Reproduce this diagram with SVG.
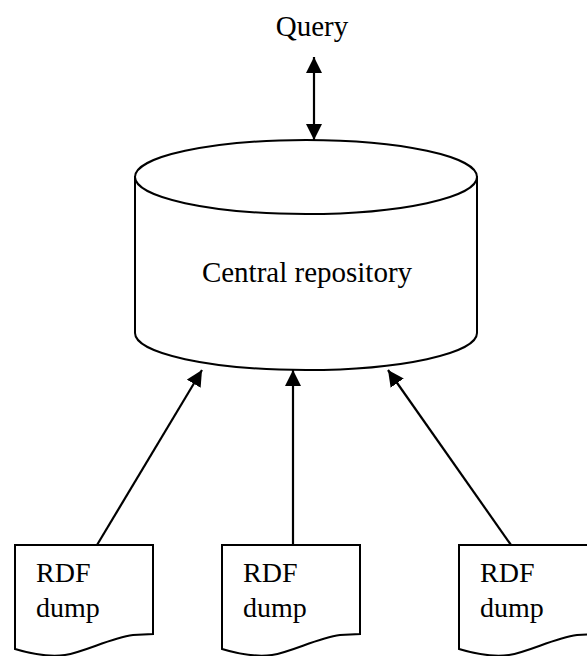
<svg xmlns="http://www.w3.org/2000/svg" width="587" height="656" viewBox="0 0 587 656">
  <style>
    .shape { fill: #fff; stroke: #000; stroke-width: 2; }
    .conn { stroke: #000; stroke-width: 2.2; fill: none; }
    text { font-family: 'Liberation Serif', 'Times New Roman', Times, serif; fill: #000; }
    .big { font-size: 29px; }
    .doc { font-size: 28px; }
  </style>
  <defs>
    <marker id="ah" viewBox="0 0 16 16" refX="16" refY="8" markerWidth="16" markerHeight="16" orient="auto-start-reverse" markerUnits="userSpaceOnUse">
      <path d="M0,0 L16,8 L0,16 z" fill="#000"/>
    </marker>
    <path id="docShape" d="M0,0 H138 V89 L118,90 C95,93 70,107 50,110 C35,112 20,110 0,104 Z"/>
  </defs>

  <rect width="587" height="656" fill="#fff"/>

  <!-- query label -->
  <g id="query">
    <text class="big" x="312" y="36" text-anchor="middle" font-family="Liberation Serif, serif">Query</text>
  </g>

  <!-- central repository cylinder -->
  <g id="repository">
    <path class="shape" d="M135,177 V333 A171,37 0 0 0 477,333 V177 Z"/>
    <ellipse class="shape" cx="306" cy="177" rx="171" ry="37"/>
    <text class="big" x="307" y="282" text-anchor="middle" font-family="Liberation Serif, serif">Central repository</text>
  </g>

  <!-- RDF dump documents -->
  <g id="dump1">
    <use href="#docShape" class="shape" x="15" y="545"/>
    <text class="doc" x="36" y="582" font-family="Liberation Serif, serif">RDF</text>
    <text class="doc" x="36" y="617" font-family="Liberation Serif, serif">dump</text>
  </g>
  <g id="dump2">
    <use href="#docShape" class="shape" x="222" y="545"/>
    <text class="doc" x="243" y="582" font-family="Liberation Serif, serif">RDF</text>
    <text class="doc" x="243" y="617" font-family="Liberation Serif, serif">dump</text>
  </g>
  <g id="dump3">
    <use href="#docShape" class="shape" x="459" y="545"/>
    <text class="doc" x="480" y="582" font-family="Liberation Serif, serif">RDF</text>
    <text class="doc" x="480" y="617" font-family="Liberation Serif, serif">dump</text>
  </g>

  <!-- connectors -->
  <g id="connectors">
    <line class="conn" x1="314" y1="57" x2="314" y2="140" marker-start="url(#ah)" marker-end="url(#ah)"/>
    <line class="conn" x1="97" y1="545" x2="202" y2="370" marker-end="url(#ah)"/>
    <line class="conn" x1="293" y1="545" x2="293" y2="370" marker-end="url(#ah)"/>
    <line class="conn" x1="511" y1="545" x2="388" y2="370" marker-end="url(#ah)"/>
  </g>
</svg>
